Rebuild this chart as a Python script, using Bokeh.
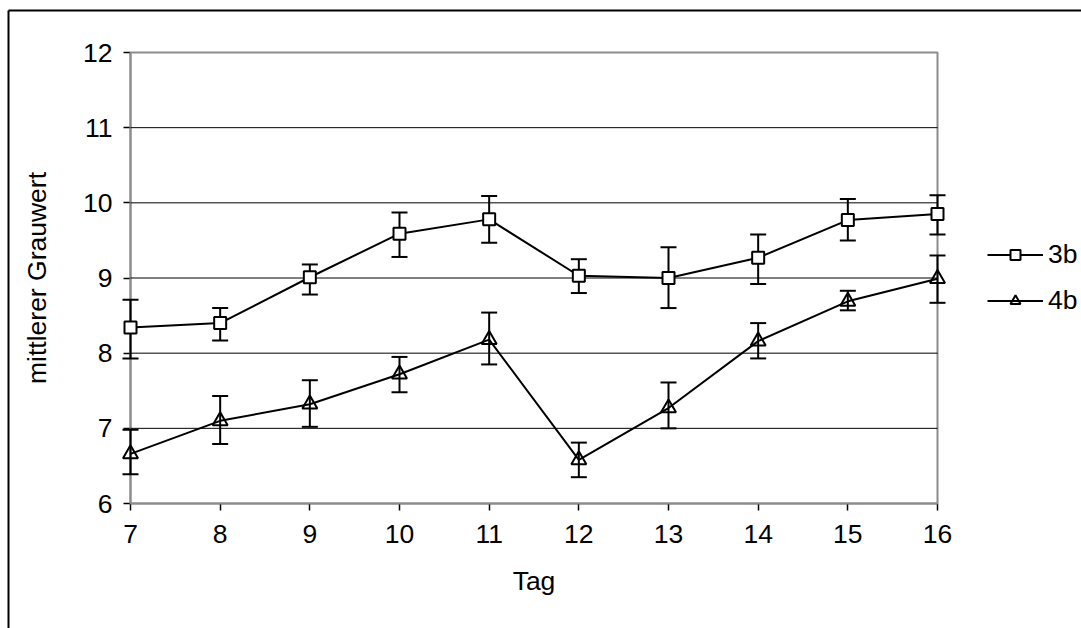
from bokeh.plotting import figure
from bokeh.models import Range1d, BoxAnnotation, Legend, LegendItem, FixedTicker
from bokeh.embed import file_html
from bokeh.resources import INLINE

# ---- data ----
days = [7, 8, 9, 10, 11, 12, 13, 14, 15, 16]
mean_3b = [8.34, 8.40, 9.01, 9.59, 9.78, 9.03, 9.00, 9.27, 9.77, 9.85]
upper_3b = [8.71, 8.60, 9.18, 9.87, 10.09, 9.25, 9.41, 9.58, 10.05, 10.10]
lower_3b = [7.93, 8.17, 8.78, 9.28, 9.47, 8.80, 8.60, 8.92, 9.50, 9.58]
mean_4b = [6.66, 7.10, 7.32, 7.72, 8.18, 6.58, 7.27, 8.16, 8.69, 8.99]
upper_4b = [6.98, 7.43, 7.64, 7.95, 8.54, 6.81, 7.61, 8.40, 8.83, 9.30]
lower_4b = [6.39, 6.79, 7.02, 7.48, 7.85, 6.35, 7.00, 7.93, 8.57, 8.67]
x_ticks = [7, 8, 9, 10, 11, 12, 13, 14, 15, 16]
y_ticks = [6, 7, 8, 9, 10, 11, 12]
series_names = ["3b", "4b"]
x_label = "Tag"
y_label = "mittlerer Grauwert"

# ---- layout (pixels) ----
W, H = 1081, 628
AREA_L, AREA_R, AREA_T, AREA_B = 130, 937, 52, 503   # plot area in the picture
BORDER_X, BORDER_Y = 8, 10                             # outer chart border
FONT = "Liberation Sans"
FS = "26.5px"
AXIS_GRAY = "#8c8c8c"

x_lo, x_hi = x_ticks[0], x_ticks[-1]
y_lo, y_hi = y_ticks[0], y_ticks[-1]
ppx = (AREA_R - AREA_L) / (x_hi - x_lo)
ppy = (AREA_B - AREA_T) / (y_hi - y_lo)
x0r, x1r = x_lo - AREA_L / ppx, x_hi + (W - AREA_R) / ppx
y0r, y1r = y_lo - (H - AREA_B) / ppy, y_hi + AREA_T / ppy

p = figure(width=W, height=H, x_range=Range1d(x0r, x1r), y_range=Range1d(y0r, y1r),
           output_backend="svg", toolbar_location=None,
           min_border_left=0, min_border_right=0,
           min_border_top=0, min_border_bottom=0)
p.outline_line_color = None
p.xgrid.visible = False
p.ygrid.visible = False
p.background_fill_color = "white"
p.border_fill_color = "white"

# outer chart border: left and top edges (the rest lies outside the picture)
bx = x0r + BORDER_X / ppx
by = y1r - BORDER_Y / ppy
p.segment(x0=[bx, bx], y0=[by, by], x1=[bx, x1r + 1], y1=[y0r - 1, by],
          line_color="black", line_width=2)

# plot area rectangle
p.add_layout(BoxAnnotation(left=x_lo, right=x_hi, bottom=y_lo, top=y_hi,
                           fill_alpha=0, line_color=AXIS_GRAY, line_alpha=1,
                           line_width=2, level="underlay"))

# horizontal gridlines at inner ticks
inner = y_ticks[1:-1]
p.segment(x0=[x_lo] * len(inner), x1=[x_hi] * len(inner), y0=inner, y1=inner,
          line_color="black", line_width=1)

# axes
for ax in (p.xaxis[0], p.yaxis[0]):
    ax.axis_line_color = AXIS_GRAY
    ax.axis_line_width = 2
    ax.major_tick_line_color = "black"
    ax.major_tick_line_width = 1.5
    ax.major_tick_out = 7
    ax.major_tick_in = 0
    ax.minor_tick_line_color = None
    ax.major_label_text_font = FONT
    ax.major_label_text_font_size = FS
    ax.major_label_text_color = "black"
    ax.axis_label_text_font = FONT
    ax.axis_label_text_font_size = FS
    ax.axis_label_text_font_style = "normal"
    ax.axis_label_text_color = "black"
    ax.level = "underlay"

p.xaxis.ticker = FixedTicker(ticks=x_ticks)
p.xaxis.bounds = (x_lo, x_hi)
p.xaxis.fixed_location = y_lo
p.xaxis.major_label_standoff = 14
p.xaxis.axis_label = x_label
p.xaxis.axis_label_standoff = 20

p.yaxis.ticker = FixedTicker(ticks=y_ticks)
p.yaxis.bounds = (y_lo, y_hi)
p.yaxis.fixed_location = x_lo
p.yaxis.major_label_standoff = 11
p.yaxis.axis_label = y_label
p.yaxis.axis_label_standoff = 28

items = []
for name, mean, up, lo, marker, fill in (
        (series_names[0], mean_3b, upper_3b, lower_3b, "square", True),
        (series_names[1], mean_4b, upper_4b, lower_4b, "triangle", False)):
    ln = p.line(days, mean, line_color="black", line_width=2)
    p.segment(x0=days, x1=days, y0=lo, y1=up, line_color="black", line_width=2)
    p.scatter(days, up, marker="dash", size=16, line_color="black", line_width=2)
    p.scatter(days, lo, marker="dash", size=16, line_color="black", line_width=2)
    sc = p.scatter(days, mean, marker=marker, size=12 if marker == "square" else 15,
                   line_color="black", line_width=2,
                   fill_color="white", fill_alpha=1 if fill else 0)
    items.append(LegendItem(label=name, renderers=[ln, sc]))

# legend: glyphs from x=987, rows centred at y=256 and y=301 (picture pixels)
ROW_H, ROW_GAP = 30, 15
leg_h = 2 * ROW_H + ROW_GAP
legend = Legend(items=items, location=(987, H - (256 - ROW_H / 2) - leg_h),
                orientation="vertical",
                glyph_width=56, glyph_height=25, label_height=ROW_H, spacing=ROW_GAP,
                padding=0, margin=0, border_line_alpha=0, background_fill_alpha=0,
                label_text_font=FONT, label_text_font_size=FS,
                label_text_color="black", label_standoff=5)
p.add_layout(legend)

open("out.html", "w").write(file_html(p, INLINE))
